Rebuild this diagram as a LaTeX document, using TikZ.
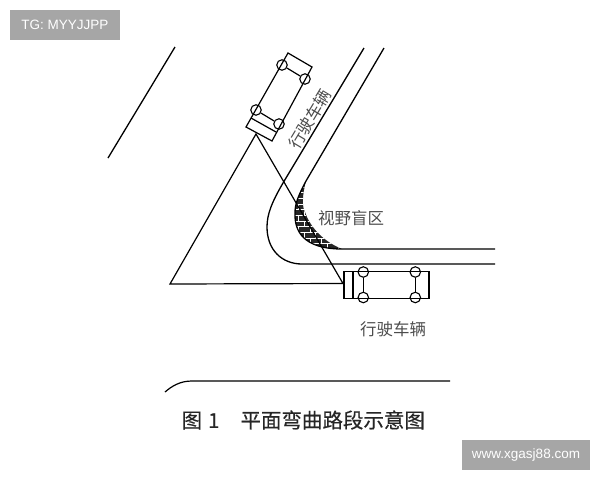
\documentclass[tikz,border=0pt]{standalone}
\usepackage{fontspec}
\setmainfont{Liberation Sans}
\newfontfamily\cjk{Noto Sans CJK SC}
\newfontfamily\cjkbold[FakeBold=0.4]{Noto Sans CJK SC}
\usetikzlibrary{patterns}
\definecolor{markgray}{HTML}{A6A6A6}
\tikzset{
  wheel/.style={circle,draw,line width=1.1pt,inner sep=0pt,minimum size=10.5pt},
  road/.style={line width=1.3pt},
  label/.style={font=\cjk\fontsize{16.5}{17}\selectfont,text=black!70,inner sep=0pt},
  markbox/.style={fill=markgray,text=white,inner sep=0pt,anchor=center}
}
\begin{document}
\begin{tikzpicture}[x=1pt,y=-1pt,line width=1.2pt]

        \useasboundingbox (0,0) rectangle (600,480);

        % blind area
        \fill[black!85] (306,181) .. controls (298,196) and (295,204) .. (295,213)
          .. controls (294,238) and (312,249) .. (342,249)
          .. controls (320,240) and (309,224) .. (305,212)
          .. controls (302,207) and (302,196) .. (306,181);
        \fill[pattern=bricks,pattern color=white] (306,181) .. controls (298,196) and (295,204) .. (295,213)
          .. controls (294,238) and (312,249) .. (342,249)
          .. controls (320,240) and (309,224) .. (305,212)
          .. controls (302,207) and (302,196) .. (306,181);

        % road
        \draw[road] (175,47) -- (108,158);
        \draw[road] (364,48) -- (283,183) .. controls (272,202) and (267,214) .. (267,227)
          .. controls (267,250) and (282,264) .. (302,264) -- (495,264);
        \draw[road] (384,48) -- (306,181) .. controls (298,196) and (295,204) .. (295,213)
          .. controls (294,238) and (312,249) .. (342,249) -- (495,249);

        % upper vehicle
        \begin{scope}[every node/.style={wheel}]
          \node (fl) at (282,65)  {};
          \node (fr) at (305,79)  {};
          \node (rl) at (256,110) {};
          \node (rr) at (279,124) {};
        \end{scope}
        \coordinate (a1) at (288,53);
        \coordinate (a2) at (312,67);
        \coordinate (a3) at (272,141);
        \coordinate (a4) at (246,127);
        \coordinate (a5) at (251,118);
        \coordinate (a6) at (276,132);
        \coordinate (eye1) at (256,134);
        \draw (a1) -- (a2) -- (a3) -- (a4) -- cycle;
        \draw (fl) -- (fr);
        \draw (rl) -- (rr);
        \draw (a5) -- (a6);

        % lower vehicle
        \begin{scope}[every node/.style={wheel}]
          \node (w1) at (363.3,272) {};
          \node (w2) at (363.3,297.5) {};
          \node (w3) at (415.3,272) {};
          \node (w4) at (415.3,297.5) {};
        \end{scope}
        \coordinate (b1) at (344,271.7);
        \coordinate (b2) at (429,271.7);
        \coordinate (b3) at (429,298.3);
        \coordinate (b4) at (344,298.3);
        \coordinate (b5) at (353,271.7);
        \coordinate (b6) at (353,298.3);
        \coordinate (eye2) at (343,283.5);
        \draw (b1) -- (b2) -- (b3) -- (b4) -- cycle;
        \draw (b5) -- (b6);
        \draw (w1) -- (w2);
        \draw (w3) -- (w4);

        % sight lines
        \coordinate (corner) at (170,284);
        \draw (eye1) -- (corner) -- (eye2) -- cycle;

        % labels
        \node[label,rotate=59] (lab1) at (310,119) {行驶车辆};
        \node[label] (lab2) at (351,218) {视野盲区};
        \node[label] (lab3) at (393,329) {行驶车辆};

        % caption
        \coordinate (r1) at (165,392);
        \coordinate (r2) at (450,381);
        \draw (r1) .. controls (172,386) and (180,381) .. (192,381) -- (r2);
        \node[inner sep=0pt,text=black!85,anchor=west,font=\cjkbold\fontsize{20.5}{22}\selectfont] (cap) at (181,420) {图\hspace{6pt}1\hspace{21pt}平面弯曲路段示意图};

        % watermarks
        \node[markbox,minimum width=110pt,minimum height=30pt] (tg) at (65,25) {\fontsize{13.5}{14}\selectfont TG: MYYJJPP};
        \node[markbox,minimum width=128pt,minimum height=30pt] (web) at (526,455) {\fontsize{13.5}{14}\selectfont www.xgasj88.com};

      \end{tikzpicture}
\end{document}
